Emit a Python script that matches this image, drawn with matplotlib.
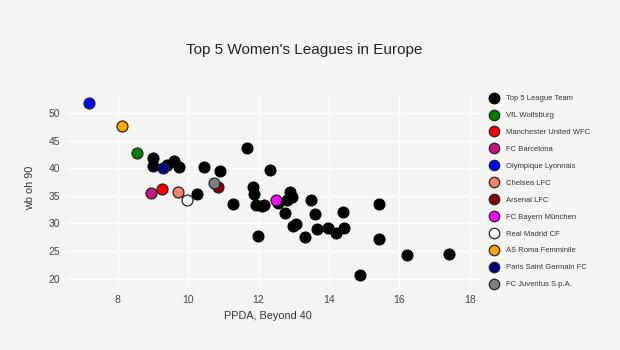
import matplotlib

matplotlib.use("Agg")
import matplotlib.pyplot as plt
from matplotlib.lines import Line2D

plt.rcParams["font.family"] = ["Liberation Sans", "DejaVu Sans"]

BG = "#f4f4f3"

# other top-5 league teams (black dots)
other_x = [8.99, 8.99, 9.41, 9.61, 9.74, 10.24, 10.46, 10.91, 11.27, 11.66,
           11.85, 11.88, 11.93, 12.09, 12.16, 12.33, 11.99, 12.56, 12.89, 12.94,
           12.82, 12.75, 12.97, 13.07, 13.32, 13.48, 13.61, 13.67, 13.97, 14.20,
           14.41, 14.44, 15.42, 15.42, 14.88, 16.21, 17.40]
other_y = [41.9, 40.5, 40.6, 41.4, 40.3, 35.4, 40.2, 39.5, 33.6, 43.7,
           36.6, 35.4, 33.4, 33.1, 33.4, 39.7, 27.8, 33.8, 35.7, 34.8,
           34.3, 31.9, 29.6, 29.95, 27.6, 34.3, 31.8, 29.0, 29.2, 28.3,
           32.1, 29.2, 33.5, 27.2, 20.7, 24.2, 24.5]

# highlighted clubs
teams = ["VfL Wolfsburg", "Manchester United WFC", "FC Barcelona", "Olympique Lyonnais",
         "Chelsea LFC", "Arsenal LFC", "FC Bayern München", "Real Madrid CF",
         "AS Roma Femminile", "Paris Saint Germain FC", "FC Juventus S.p.A."]
team_x = [8.54, 9.25, 8.95, 7.18, 9.72, 10.84, 12.50, 9.98, 8.11, 9.28, 10.73]
team_y = [42.75, 36.3, 35.5, 51.8, 35.8, 36.7, 34.3, 34.3, 47.6, 40.0, 37.3]
team_colors = ["#008000", "#ff0000", "#c71585", "#0000ff", "#fa8072", "#8b0000",
               "#ff00ff", "#ffffff", "#ffa500", "#000080", "#808080"]

fig = plt.figure(figsize=(6.2, 3.5), dpi=100, facecolor=BG)
ax = fig.add_axes([67 / 620, 62 / 350, 414 / 620, 193 / 350], facecolor=BG)

ax.scatter(other_x, other_y, s=62, c="black", edgecolors="black", linewidths=0.8, zorder=3)
for x, y, col in zip(team_x, team_y, team_colors):
    ax.scatter([x], [y], s=62, c=col, edgecolors="#222222", linewidths=0.9, zorder=4)

ax.set_xlim(6.56, 18.32)
ax.set_ylim(18.3, 53.3)
ax.set_xticks([8, 10, 12, 14, 16, 18])
ax.set_yticks([20, 25, 30, 35, 40, 45, 50])
ax.grid(color="white", lw=1.0, zorder=0)
ax.set_axisbelow(True)
for s in ax.spines.values():
    s.set_visible(False)
ax.tick_params(length=0, labelsize=7.5, labelcolor="#444444", pad=5)

ax.set_xlabel("PPDA, Beyond 40", fontsize=7.8, color="#333333")
ax.xaxis.set_label_coords(0.486, -0.12)
ax.set_ylabel("wb oh 90", fontsize=7.8, color="#333333", va="center")
ax.yaxis.set_label_coords(-0.089, 0.518)

fig.text(0.49, 1 - 50 / 350, "Top 5 Women's Leagues in Europe", fontsize=11,
         color="#222222", ha="center", va="center")

handles = [Line2D([], [], ls="", marker="o", ms=7.5, mfc="black", mec="black",
                  label="Top 5 League Team")]
for name, col in zip(teams, team_colors):
    handles.append(Line2D([], [], ls="", marker="o", ms=7.5, mfc=col, mec="#222222",
                          mew=0.9, label=name))
fig.legend(handles=handles, loc="upper left", bbox_to_anchor=(488 / 620, 1 - 95 / 350),
           frameon=False, fontsize=5.5, labelspacing=1.25, handlelength=1.5,
           handletextpad=0.8, borderpad=0, borderaxespad=0, labelcolor="#333333")

fig.savefig("out.png", dpi=100, facecolor=BG)
